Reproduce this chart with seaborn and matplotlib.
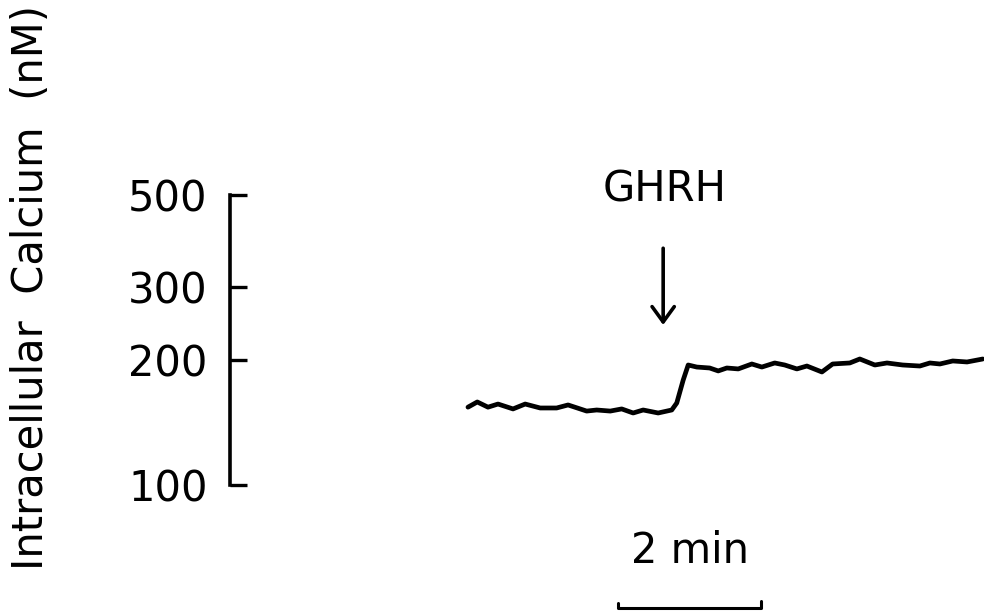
import numpy as np
import pandas as pd
import matplotlib
matplotlib.use("Agg")
import matplotlib.pyplot as plt
import seaborn as sns

# Fura-2 calcium trace of a single cell, GHRH added at ~2.7 min
time_min = [0, 0.13, 0.28, 0.42, 0.63, 0.80, 1.01, 1.24, 1.40, 1.66, 1.80, 1.99,
            2.15, 2.31, 2.45, 2.66, 2.85, 2.92, 3.01, 3.08, 3.20, 3.38, 3.50, 3.62,
            3.78, 3.97, 4.11, 4.29, 4.43, 4.60, 4.74, 4.95, 5.10, 5.34, 5.48, 5.69,
            5.86, 6.08, 6.32, 6.46, 6.60, 6.78, 6.98, 7.20]
calcium_nm = [154, 158.5, 154, 156.7, 152.5, 156.7, 153.3, 153.3, 155.9, 150.7, 151.6, 150.7,
              152.5, 149.1, 151.6, 149.1, 151.6, 157.6, 179, 194.6, 192.4, 191.4, 188.3, 191.4,
              190.4, 195.7, 192.4, 196.8, 194.6, 190.4, 193.5, 187.2, 195.7, 196.8, 201.2, 194.6,
              196.8, 194.6, 193.5, 196.8, 195.7, 199, 197.9, 201.2]

y_ticks = [100, 200, 300, 500]
y_tick_labels = ["100", "200", "300", "500"]
ghrh_time = 2.73
scale_bar_min = 2
scale_bar_start = 2.10

df = pd.DataFrame({"time": time_min, "calcium": calcium_nm})

sns.set_theme(style="white")
plt.rcParams["font.family"] = ["DejaVu Sans"]

fig = plt.figure(figsize=(9.84, 6.15), dpi=100)
ax = fig.add_axes([0, 0, 1, 1])
ax.set_facecolor("white")

sns.lineplot(data=df, x="time", y="calcium", ax=ax, color="black",
             linewidth=3.4, estimator=None, sort=False,
             solid_joinstyle="round", solid_capstyle="round")

ax.set_yscale("log")
ax.set_xlim(-6.545, 7.217)
ax.set_ylim(48.6, 1475)

# vertical calibration bar acting as the y axis
for side in ["top", "right", "bottom"]:
    ax.spines[side].set_visible(False)
ax.spines["left"].set_position(("data", -3.33))
ax.spines["left"].set_bounds(100, 500)
ax.spines["left"].set_linewidth(2.6)
ax.spines["left"].set_color("black")
ax.yaxis.set_minor_locator(matplotlib.ticker.NullLocator())
ax.set_yticks(y_ticks)
ax.set_yticklabels(y_tick_labels)
ax.tick_params(axis="y", direction="in", length=12, width=2.4, pad=16,
               labelsize=30, colors="black", left=True)
ax.set_xticks([])
ax.set_xlabel("")
ax.set_ylabel("")

# stimulus marker
ax.annotate("", xy=(ghrh_time, 243), xytext=(ghrh_time, 372),
            arrowprops=dict(arrowstyle="->,head_length=0.55,head_width=0.4",
                            color="black", lw=2.6, shrinkA=0, shrinkB=0,
                            mutation_scale=20))
ax.text(ghrh_time + 0.02, 515, "GHRH", ha="center", va="center", fontsize=30,
        color="black")

# time calibration bar
bar_x = [scale_bar_start, scale_bar_start, scale_bar_start + scale_bar_min,
         scale_bar_start + scale_bar_min]
bar_y = [52.0, 50.5, 50.5, 52.5]
ax.plot(bar_x, bar_y, color="black", lw=2.2, solid_capstyle="round")
ax.text(scale_bar_start + scale_bar_min / 2, 69.5, f"{scale_bar_min} min",
        ha="center", va="center", fontsize=30, color="black")

fig.text(31 / 984, 1 - 288 / 615, "Intracellular  Calcium  (nM)", rotation=90,
         ha="center", va="center", fontsize=30, color="black")

fig.savefig("out.png", dpi=100, facecolor="white")
